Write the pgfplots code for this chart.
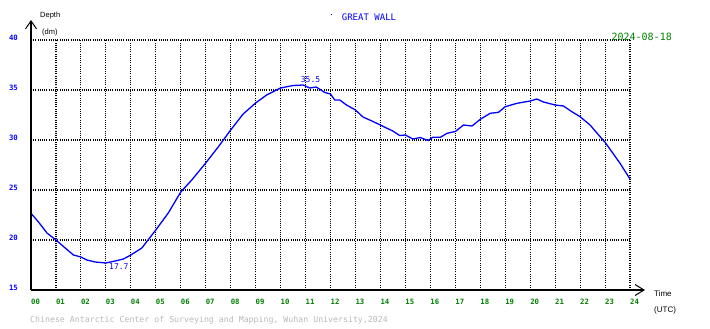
\documentclass[border=0pt]{standalone}
\usepackage{fontspec}
\setmainfont{Liberation Sans}
\setmonofont{DejaVu Sans Mono}
\usepackage{pgfplots}
\pgfplotsset{compat=1.18}
\usetikzlibrary{arrows.meta}
\definecolor{tblue}{RGB}{0,0,255}
\definecolor{tgreen}{RGB}{0,128,0}
\definecolor{tgray}{RGB}{185,185,185}
\begin{document}
\begin{tikzpicture}[x=1bp,y=1bp]
\useasboundingbox (0,0) rectangle (710,328);
\begin{axis}[
  at={(31bp,38bp)}, anchor=south west,
  scale only axis, width=599bp, height=250bp,
  xmin=0, xmax=24, ymin=15, ymax=40,
  clip=false,
  axis line style={draw=none},
  major tick length=0pt,
  xtick={0,...,24},
  xticklabels={00,01,02,03,04,05,06,07,08,09,10,11,12,13,14,15,16,17,18,19,20,21,22,23,24},
  ytick={15,20,25,30,35,40},
  yticklabels={15,20,25,30,35,40},
  xticklabel style={font=\ttfamily\bfseries\fontsize{7.3bp}{8bp}\selectfont, text=tgreen, anchor=center, inner sep=0pt, yshift=-12bp, xshift=4.5bp},
  yticklabel style={font=\ttfamily\bfseries\fontsize{7.3bp}{8bp}\selectfont, text=tblue, anchor=east, inner sep=0pt, xshift=-13bp, yshift=2bp},
  grid=major,
  grid style={black, line width=1.1bp, dash pattern=on 1bp off 1.2bp},
]
\addplot[tblue, line width=1.3bp] coordinates {
(0,22.67)(0.3,21.8)(0.64,20.7)(1,20.0)(1.37,19.2)(1.7,18.5)(2,18.3)(2.24,18.0)(2.57,17.8)(3,17.7)(3.37,17.9)(3.7,18.1)(4,18.5)(4.44,19.2)(5,21.0)(5.5,22.7)(6,24.8)(6.44,26.0)(7,27.7)(7.5,29.3)(8,31.0)(8.5,32.6)(9,33.7)(9.44,34.5)(10,35.2)(10.5,35.45)(10.9,35.5)(11.17,35.2)(11.43,35.3)(11.77,34.75)(12,34.6)(12.17,34.0)(12.37,34.0)(12.64,33.5)(13,33.0)(13.3,32.3)(13.57,32.0)(14,31.5)(14.24,31.2)(14.5,30.9)(14.77,30.45)(15,30.5)(15.3,30.1)(15.6,30.25)(15.9,29.95)(16.1,30.27)(16.4,30.27)(16.67,30.67)(17,30.85)(17.33,31.5)(17.67,31.4)(18,32.07)(18.4,32.67)(18.73,32.77)(19,33.33)(19.47,33.67)(20,33.9)(20.27,34.1)(20.53,33.8)(21,33.5)(21.33,33.4)(21.67,32.83)(22,32.33)(22.4,31.5)(22.8,30.33)(23,29.77)(23.27,28.83)(23.6,27.67)(24,26.1)
};
\draw[black, line width=1.4bp, -{Straight Barb[length=9bp,width=11bp,line width=1bp]}] (axis cs:0,15) -- (axis cs:24.6,15);
\draw[black, line width=1.4bp, -{Straight Barb[length=8bp,width=11bp,line width=1bp]}] (axis cs:0,15) -- (axis cs:0,42);
\node[tblue, font=\ttfamily\fontsize{8bp}{9bp}\selectfont, inner sep=0pt] at (axis cs:11.2,36.0) {35.5};
\node[tblue, font=\ttfamily\fontsize{8bp}{9bp}\selectfont, inner sep=0pt] at (axis cs:3.52,17.33) {17.7};
\end{axis}
\node[tblue, font=\ttfamily\fontsize{9bp}{10bp}\selectfont, inner sep=0pt] at (369,311) {GREAT WALL};
\fill[tblue] (330.5,312.5) rectangle (331.5,313.5);
\node[tgreen, font=\ttfamily\fontsize{10bp}{11bp}\selectfont, inner sep=0pt] at (641.7,291) {2024-08-18};
\node[black, font=\fontsize{7.5bp}{8bp}\selectfont, inner sep=0pt, anchor=west] at (40,312) {Depth};
\node[black, font=\fontsize{7.5bp}{8bp}\selectfont, inner sep=0pt, anchor=west] at (42,295) {(dm)};
\node[black, font=\fontsize{8bp}{9bp}\selectfont, inner sep=0pt, anchor=west] at (654,34) {Time};
\node[black, font=\fontsize{8bp}{9bp}\selectfont, inner sep=0pt, anchor=west] at (654,18) {(UTC)};
\node[tgray, font=\ttfamily\fontsize{8.25bp}{9bp}\selectfont, inner sep=0pt, anchor=west] at (30,8) {Chinese Antarctic Center of Surveying and Mapping, Wuhan University,2024};
\end{tikzpicture}
\end{document}
